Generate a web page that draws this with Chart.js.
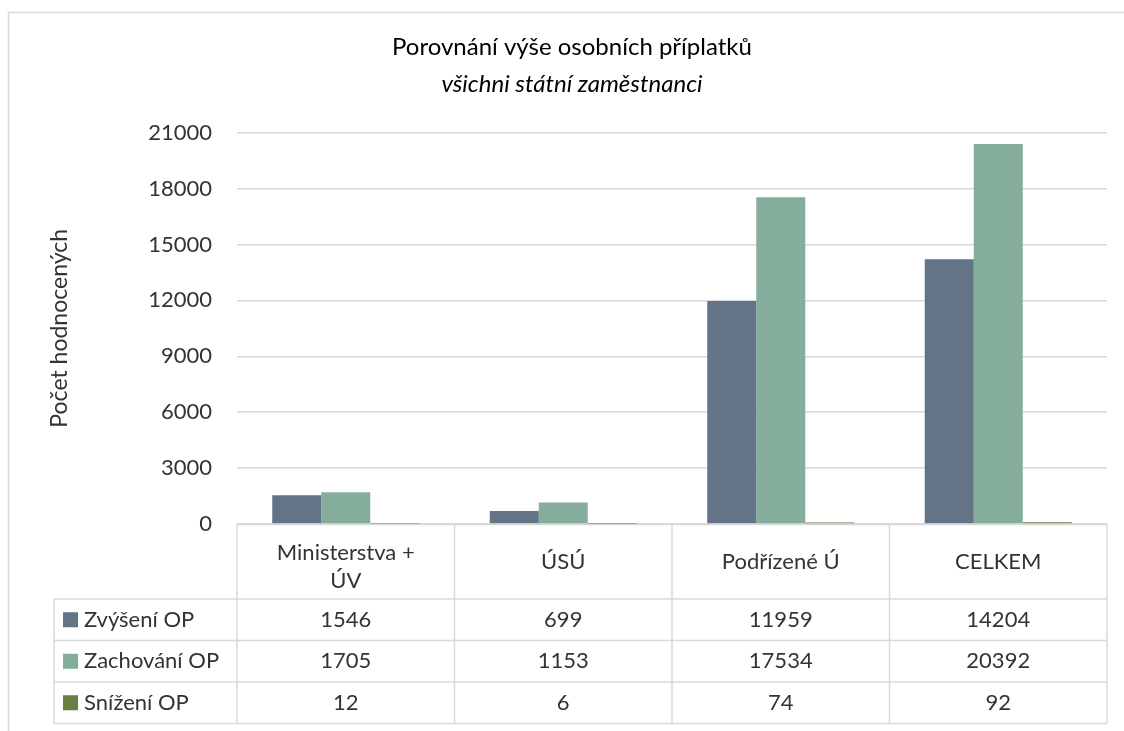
<!DOCTYPE html>
<html>
<head>
<meta charset="utf-8">
<script src="https://cdn.jsdelivr.net/npm/chart.js@4.4.1/dist/chart.umd.min.js"></script>
<style>
    html, body { margin: 0; padding: 0; background: #fff; }
</style>
</head>
<body>
<canvas id="opChart" width="1124" height="731"></canvas>
<script>
// ─── DATA ───
const categories = [['Ministerstva +', 'ÚV'], 'ÚSÚ', 'Podřízené Ú', 'CELKEM'];
const seriesNames = ['Zvýšení OP', 'Zachování OP', 'Snížení OP'];
const zvyseniOP = [1546, 699, 11959, 14204];
const zachovaniOP = [1705, 1153, 17534, 20392];
const snizeniOP = [12, 6, 74, 92];
const yTickValues = [0, 3000, 6000, 9000, 12000, 15000, 18000, 21000];

const seriesColors = ['#647487', '#84ad9b', '#6a7d45'];
const lineColor = '#d9d9d9';
const textColor = '#333333';
const fontFamily = 'Lato, "Open Sans", sans-serif';

// ─── OUTER FRAME ───
const framePlugin = {
    id: 'frame',
    beforeDraw(chart) {
        const c = chart.ctx;
        c.save();
        c.fillStyle = '#fff';
        c.fillRect(0, 0, chart.width, chart.height);
        c.strokeStyle = lineColor;
        c.lineWidth = 1.5;
        c.beginPath();
        c.moveTo(8.5, chart.height);
        c.lineTo(8.5, 12.5);
        c.lineTo(chart.width, 12.5);
        c.stroke();
        c.restore();
    }
};

// ─── DATA TABLE UNDER THE AXIS ───
const tablePlugin = {
    id: 'dataTable',
    afterDraw(chart) {
        const c = chart.ctx;
        const area = chart.chartArea;
        const xScale = chart.scales.x;
        const n = categories.length;
        const colW = (area.right - area.left) / n;
        const legendLeft = 54;
        const headerTop = area.bottom;
        const headerH = 75;
        const rowH = 41.5;
        const rowsTop = headerTop + headerH;
        const tableBottom = rowsTop + rowH * seriesNames.length;
        const rows = [zvyseniOP, zachovaniOP, snizeniOP];

        c.save();
        c.strokeStyle = lineColor;
        c.lineWidth = 1.5;
        c.beginPath();
        // header top line
        c.moveTo(area.left, headerTop + 0.5);
        c.lineTo(area.right, headerTop + 0.5);
        // row lines
        for (let r = 0; r <= seriesNames.length; r++) {
            const y = rowsTop + r * rowH;
            c.moveTo(legendLeft, y);
            c.lineTo(area.right, y);
        }
        // column lines
        for (let i = 0; i <= n; i++) {
            const x = area.left + i * colW;
            c.moveTo(x, headerTop);
            c.lineTo(x, tableBottom);
        }
        c.moveTo(legendLeft, rowsTop);
        c.lineTo(legendLeft, tableBottom);
        c.stroke();

        c.fillStyle = textColor;
        c.font = '22px ' + fontFamily;
        c.textAlign = 'center';
        c.textBaseline = 'middle';

        // header labels
        const mid = headerTop + headerH / 2;
        categories.forEach((label, i) => {
            const x = xScale.getPixelForValue(i);
            if (Array.isArray(label)) {
                label.forEach((ln, k) => c.fillText(ln, x, mid - 8.5 + k * 28));
            } else {
                c.fillText(label, x, mid);
            }
        });

        // series rows
        rows.forEach((vals, r) => {
            const y = rowsTop + r * rowH + rowH / 2;
            c.fillStyle = seriesColors[r];
            c.fillRect(63, y - 7.5, 15, 15);
            c.fillStyle = textColor;
            c.textAlign = 'left';
            c.fillText(seriesNames[r], 84, y);
            c.textAlign = 'center';
            vals.forEach((v, i) => {
                c.fillText(String(v), xScale.getPixelForValue(i), y);
            });
        });
        c.restore();
    }
};

// ─── CREATE THE CHART ───
const ctx = document.getElementById('opChart').getContext('2d');
const opChart = new Chart(ctx, {
    type: 'bar',
    data: {
        labels: categories,
        datasets: [
            { label: seriesNames[0], data: zvyseniOP, backgroundColor: seriesColors[0] },
            { label: seriesNames[1], data: zachovaniOP, backgroundColor: seriesColors[1] },
            { label: seriesNames[2], data: snizeniOP, backgroundColor: seriesColors[2] }
        ]
    },
    options: {
        responsive: false,
        animation: false,
        devicePixelRatio: 1,
        datasets: {
            bar: { barPercentage: 1, categoryPercentage: 0.676 }
        },
        layout: { padding: { left: 20, right: 0, top: 33, bottom: 0 } },
        scales: {
            x: {
                grid: { display: false },
                border: { display: false },
                ticks: { display: false },
                afterFit(scale) { scale.height = 207; }
            },
            y: {
                min: 0,
                max: 21000,
                afterBuildTicks(scale) {
                    scale.ticks = yTickValues.map(v => ({ value: v }));
                },
                afterFit(scale) { scale.width = 217; },
                grid: { color: lineColor, lineWidth: 1.5, drawTicks: false },
                border: { display: false },
                ticks: {
                    padding: 25,
                    color: textColor,
                    font: { family: fontFamily, size: 22 },
                    callback: v => String(v)
                },
                title: {
                    display: true,
                    text: 'Počet hodnocených',
                    color: textColor,
                    font: { family: fontFamily, size: 23 },
                    padding: { top: 26, bottom: 0 }
                }
            },
            // empty right-hand spacer so the title centres like the original
            ySpacer: {
                position: 'right',
                display: true,
                grid: { display: false },
                border: { display: false },
                ticks: { display: false },
                afterFit(scale) { scale.width = 17; }
            }
        },
        plugins: {
            legend: { display: false },
            tooltip: { enabled: false },
            title: {
                display: true,
                text: 'Porovnání výše osobních příplatků',
                color: '#000',
                font: { family: fontFamily, size: 24, weight: 'normal', lineHeight: 1.2 },
                padding: { top: 0, bottom: 8 }
            },
            subtitle: {
                display: true,
                text: 'všichni státní zaměstnanci',
                color: '#000',
                font: { family: fontFamily, size: 24, style: 'italic', lineHeight: 1.2 },
                padding: { top: 0, bottom: 34 }
            }
        }
    },
    plugins: [framePlugin, tablePlugin]
});
</script>
</body>
</html>
